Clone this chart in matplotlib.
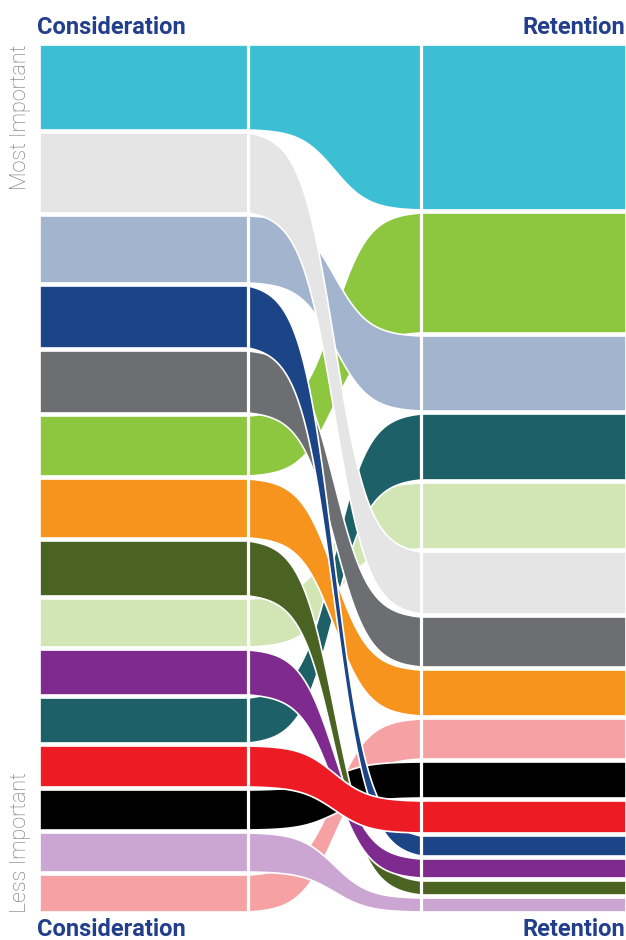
import numpy as np
import matplotlib.pyplot as plt
from matplotlib.patches import Polygon

# factors, with their weight in each ranking (top of stack = most important)
factors = ["cyan", "lightgray", "lightblue", "blue", "darkgray", "green", "orange",
           "olive", "lightgreen", "purple", "teal", "red", "black", "lilac", "pink"]
colors = {
    "cyan": "#3dbfd3", "lightgray": "#e5e5e5", "lightblue": "#a3b4cf",
    "blue": "#1c4587", "darkgray": "#6d6e71", "green": "#8dc63f",
    "orange": "#f7941d", "olive": "#4a6222", "lightgreen": "#d2e6b5",
    "purple": "#7f2a8e", "teal": "#1e6068", "red": "#ed1c24",
    "black": "#000000", "lilac": "#cca6d3", "pink": "#f6a2a5",
}

consideration_order = factors
consideration_vals = [85, 80, 67, 62, 62, 60, 59, 55, 48, 45, 45, 41, 40, 39, 37]

retention_order = ["cyan", "green", "lightblue", "teal", "lightgreen", "lightgray",
                   "darkgray", "orange", "pink", "black", "red", "blue", "purple",
                   "olive", "lilac"]
retention_vals = [165, 120, 75, 66, 66, 62, 50, 46, 40, 36, 32, 20, 19, 14, 14]

# back-to-front drawing order of the ribbons
draw_order = ["pink", "lightgreen", "teal", "green", "cyan", "black", "lightblue",
              "darkgray", "orange", "olive", "purple", "lightgray", "blue", "lilac", "red"]

W, H = 626, 940
top, gap = 45, 3
x0, x1, x2, x3 = 40, 248, 421, 626
navy = "#233f8c"


def stack(order, vals):
    pos = {}
    y = top
    for name, v in zip(order, vals):
        pos[name] = (y, y + v)
        y += v + gap
    return pos


def ease(u, k=10.0):
    s = lambda z: 1 / (1 + np.exp(-z))
    lo, hi = s(-k / 2), s(k / 2)
    return (s(k * (u - 0.5)) - lo) / (hi - lo)


left = stack(consideration_order, consideration_vals)
right = stack(retention_order, retention_vals)

fig = plt.figure(figsize=(W / 100, H / 100), dpi=100)
ax = fig.add_axes([0, 0, 1, 1])
ax.set_xlim(0, W)
ax.set_ylim(H, 0)
ax.axis("off")

xs = np.concatenate([[x0], np.linspace(x1, x2, 200), [x3]])
u = np.clip((xs - x1) / (x2 - x1), 0, 1)
v = ease(u)
v[0], v[-1] = 0, 1

for name in draw_order:
    (lt, lb), (rt, rb) = left[name], right[name]
    ytop = lt + (rt - lt) * v
    ybot = lb + (rb - lb) * v
    pts = np.column_stack([np.concatenate([xs, xs[::-1]]),
                           np.concatenate([ytop, ybot[::-1]])])
    ax.add_patch(Polygon(pts, closed=True, facecolor=colors[name],
                         edgecolor="white", linewidth=1.2, joinstyle="round"))

for xv in (x1, x2):
    ax.plot([xv, xv], [top - 2, H - 26], color="white", lw=2.3, solid_capstyle="butt")

title_kw = dict(color=navy, fontsize=17, fontweight="bold", family=["Roboto", "DejaVu Sans"])
ax.text(37, 27, "Consideration", ha="left", va="center", **title_kw)
ax.text(625, 27, "Retention", ha="right", va="center", **title_kw)
ax.text(37, 930, "Consideration", ha="left", va="center", **title_kw)
ax.text(625, 930, "Retention", ha="right", va="center", **title_kw)

side_kw = dict(color="#707070", fontsize=15.5, fontweight="light", rotation=90,
               ha="center", family=["Roboto", "DejaVu Sans"])
ax.text(21, top, "Most Important", va="top", **side_kw)
ax.text(21, 913, "Less Important", va="bottom", **side_kw)

fig.savefig("out.png", dpi=100)
